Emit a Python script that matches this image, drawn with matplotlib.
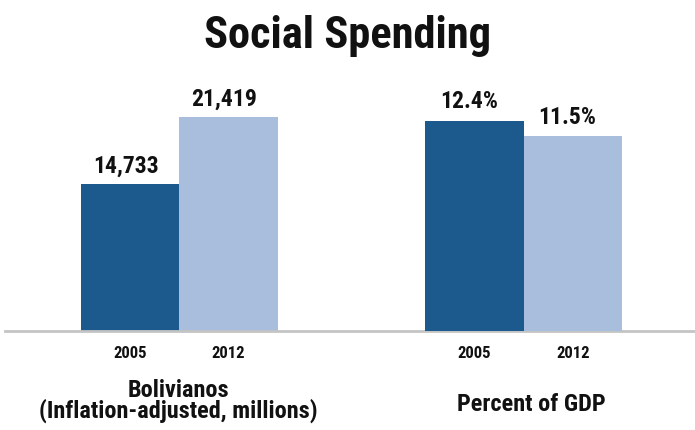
import matplotlib
matplotlib.use("Agg")
import matplotlib.pyplot as plt

# Spending data
years = ["2005", "2012"]
bolivianos = [14733, 21419]          # inflation-adjusted, millions
pct_gdp = [12.4, 11.5]               # percent of GDP
bolivianos_labels = ["14,733", "21,419"]
pct_labels = ["12.4%", "11.5%"]
group_titles = ["Bolivianos\n(Inflation-adjusted, millions)", "Percent of GDP"]

dark = "#1c5a8d"
light = "#a8bedc"
colors = [dark, light]
ink = "#111111"

plt.rcParams["font.family"] = ["Noto Sans ExtraCondensed", "Noto Sans Condensed",
                               "Roboto Condensed", "Liberation Sans Narrow",
                               "Roboto", "DejaVu Sans"]
plt.rcParams["font.weight"] = "bold"
plt.rcParams["font.stretch"] = "condensed"

fig = plt.figure(figsize=(6.95, 4.30), dpi=100)
ax = fig.add_axes([5 / 695, 99 / 430, 690 / 695, 271 / 430])
ax2 = ax.twinx()

left_x = [0, 1]
right_x = [3.5, 4.5]

ax.bar(left_x, bolivianos, width=1.0, color=colors, linewidth=0)
ax2.bar(right_x, pct_gdp, width=1.0, color=colors, linewidth=0)

ax.set_xlim(-1.27, 5.74)
ax.set_ylim(0, 27124)
ax2.set_ylim(0, 16.0)

for x, v, s in zip(left_x, bolivianos, bolivianos_labels):
    ax.annotate(s, (x, v), xytext=(-3, 8), textcoords="offset points",
                ha="center", va="baseline", fontsize=17, fontweight="bold", color=ink)
for x, v, s in zip(right_x, pct_gdp, pct_labels):
    ax2.annotate(s, (x, v), xytext=(-4, 9), textcoords="offset points",
                 ha="center", va="baseline", fontsize=17, fontweight="bold", color=ink)

for a in (ax, ax2):
    for sp in a.spines.values():
        sp.set_visible(False)
    a.set_yticks([])
ax.spines["bottom"].set_visible(True)
ax.spines["bottom"].set_color("#c4c4c4")
ax.spines["bottom"].set_linewidth(2)

ax.set_xticks(left_x + right_x)
ax.set_xticklabels(years + years, fontsize=12, fontweight="bold", color=ink)
ax.tick_params(axis="x", length=0, pad=11)

ax.text(0.49, -0.321, group_titles[0], transform=ax.get_xaxis_transform(),
        ha="center", va="baseline", fontsize=17.5, fontweight="bold", color=ink,
        linespacing=0.85, multialignment="center")
ax.text(4.08, -0.295, group_titles[1], transform=ax.get_xaxis_transform(),
        ha="center", va="baseline", fontsize=17.5, fontweight="bold", color=ink)

fig.text(0.5, 1 - 48 / 430, "Social Spending", ha="center", va="baseline",
         fontsize=32, fontweight="bold", color=ink)

fig.savefig("out.png", dpi=100)
